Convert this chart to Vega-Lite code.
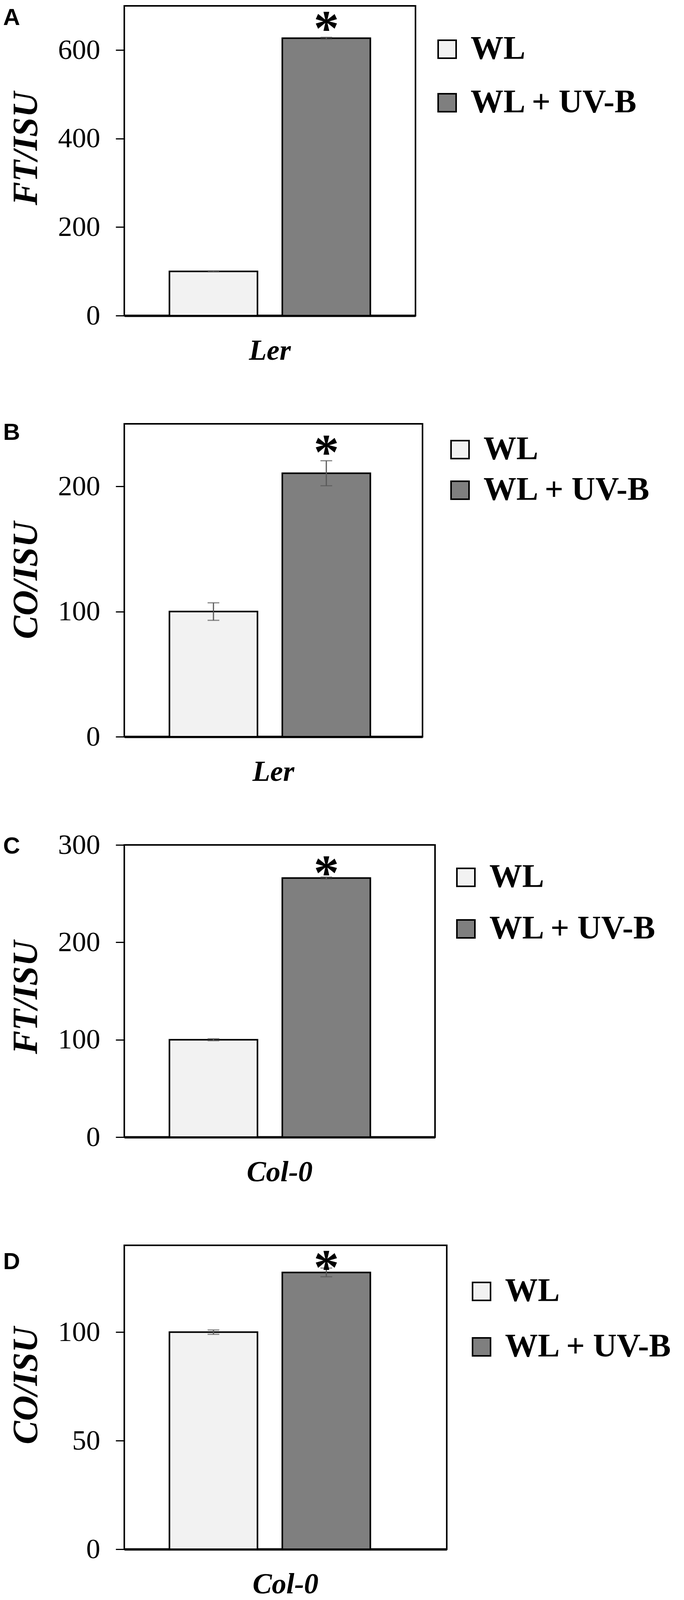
{
  "$schema": "https://vega.github.io/schema/vega-lite/v6.json",
  "background": "white",
  "padding": {"left": 6, "top": 10, "right": 5, "bottom": 0},
  "bounds": "flush",
  "spacing": 277,
  "datasets": {
    "a": [
      {"genotype": "Ler", "treatment": "WL", "value": 100, "lo": 99, "hi": 101, "star": null, "sig": ""},
      {"genotype": "Ler", "treatment": "WL + UV-B", "value": 627, "lo": 625, "hi": 629, "star": 668, "sig": "*"}
    ],
    "b": [
      {"genotype": "Ler", "treatment": "WL", "value": 100, "lo": 93, "hi": 107, "star": null, "sig": ""},
      {"genotype": "Ler", "treatment": "WL + UV-B", "value": 210.5, "lo": 200.5, "hi": 220.5, "star": 234, "sig": "*"}
    ],
    "c": [
      {"genotype": "Col-0", "treatment": "WL", "value": 100, "lo": 99, "hi": 101, "star": null, "sig": ""},
      {"genotype": "Col-0", "treatment": "WL + UV-B", "value": 266, "lo": 265, "hi": 267, "star": 280, "sig": "*"}
    ],
    "d": [
      {"genotype": "Col-0", "treatment": "WL", "value": 100, "lo": 99, "hi": 101, "star": null, "sig": ""},
      {"genotype": "Col-0", "treatment": "WL + UV-B", "value": 127.5, "lo": 125.5, "hi": 129.5, "star": 133.7, "sig": "*"}
    ]
  },
  "vconcat": [
    {
      "title": {"text": "A", "offset": -65},
      "width": 745,
      "height": 793,
      "data": {"name": "a"},
      "encoding": {
        "x": {"field": "genotype", "type": "nominal", "scale": {"paddingInner": 0, "paddingOuter": 0}},
        "xOffset": {"field": "treatment", "type": "nominal", "scale": {"domain": ["WL", "WL + UV-B"], "paddingInner": 0.22, "paddingOuter": 0.4}}
      },
      "layer": [
        {
          "mark": {"type": "bar", "stroke": "black", "strokeWidth": 4},
          "encoding": {
            "y": {"field": "value", "type": "quantitative", "title": "FT/ISU", "scale": {"domain": [0, 700], "nice": false}, "axis": {"values": [0, 200, 400, 600], "titleY": 365}},
            "color": {"field": "treatment", "type": "nominal", "scale": {"domain": ["WL", "WL + UV-B"], "range": ["#f2f2f2", "#7f7f7f"]}, "legend": {"legendX": 784, "legendY": 69, "rowPadding": 53}}
          }
        },
        {
          "mark": {"type": "rule", "color": "#595959", "strokeWidth": 3},
          "encoding": {"y": {"field": "lo", "type": "quantitative"}, "y2": {"field": "hi"}}
        },
        {
          "mark": {"type": "tick", "color": "#595959", "thickness": 3, "size": 30},
          "encoding": {"y": {"field": "lo", "type": "quantitative"}}
        },
        {
          "mark": {"type": "tick", "color": "#595959", "thickness": 3, "size": 30},
          "encoding": {"y": {"field": "hi", "type": "quantitative"}}
        },
        {
          "transform": [{"filter": "datum.star != null"}],
          "mark": {"type": "text", "font": "Liberation Serif", "fontWeight": "bold", "fontSize": 130, "baseline": "middle", "dy": 26},
          "encoding": {"y": {"field": "star", "type": "quantitative"}, "text": {"field": "sig"}}
        }
      ]
    },
    {
      "title": {"text": "B", "offset": -54},
      "width": 763,
      "height": 801,
      "data": {"name": "b"},
      "encoding": {
        "x": {"field": "genotype", "type": "nominal", "scale": {"paddingInner": 0, "paddingOuter": 0}},
        "xOffset": {"field": "treatment", "type": "nominal", "scale": {"domain": ["WL", "WL + UV-B"], "paddingInner": 0.22, "paddingOuter": 0.39}}
      },
      "layer": [
        {
          "mark": {"type": "bar", "stroke": "black", "strokeWidth": 4},
          "encoding": {
            "y": {"field": "value", "type": "quantitative", "title": "CO/ISU", "scale": {"domain": [0, 250], "nice": false}, "axis": {"values": [0, 100, 200]}},
            "color": {"field": "treatment", "type": "nominal", "scale": {"domain": ["WL", "WL + UV-B"], "range": ["#f2f2f2", "#7f7f7f"]}, "legend": {"legendX": 817, "legendY": 24, "rowPadding": 20}}
          }
        },
        {
          "mark": {"type": "rule", "color": "#595959", "strokeWidth": 3},
          "encoding": {"y": {"field": "lo", "type": "quantitative"}, "y2": {"field": "hi"}}
        },
        {
          "mark": {"type": "tick", "color": "#595959", "thickness": 3, "size": 30},
          "encoding": {"y": {"field": "lo", "type": "quantitative"}}
        },
        {
          "mark": {"type": "tick", "color": "#595959", "thickness": 3, "size": 30},
          "encoding": {"y": {"field": "hi", "type": "quantitative"}}
        },
        {
          "transform": [{"filter": "datum.star != null"}],
          "mark": {"type": "text", "font": "Liberation Serif", "fontWeight": "bold", "fontSize": 130, "baseline": "middle", "dy": 26},
          "encoding": {"y": {"field": "star", "type": "quantitative"}, "text": {"field": "sig"}}
        }
      ]
    },
    {
      "title": {"text": "C", "offset": -71},
      "width": 795,
      "height": 748,
      "data": {"name": "c"},
      "encoding": {
        "x": {"field": "genotype", "type": "nominal", "scale": {"paddingInner": 0, "paddingOuter": 0}},
        "xOffset": {"field": "treatment", "type": "nominal", "scale": {"domain": ["WL", "WL + UV-B"], "paddingInner": 0.195, "paddingOuter": 0.38}}
      },
      "layer": [
        {
          "mark": {"type": "bar", "stroke": "black", "strokeWidth": 4},
          "encoding": {
            "y": {"field": "value", "type": "quantitative", "title": "FT/ISU", "scale": {"domain": [0, 300], "nice": false}, "axis": {"values": [0, 100, 200, 300], "titleY": 390}},
            "color": {"field": "treatment", "type": "nominal", "scale": {"domain": ["WL", "WL + UV-B"], "range": ["#f2f2f2", "#7f7f7f"]}, "legend": {"legendX": 832, "legendY": 41, "rowPadding": 48}}
          }
        },
        {
          "mark": {"type": "rule", "color": "#595959", "strokeWidth": 3},
          "encoding": {"y": {"field": "lo", "type": "quantitative"}, "y2": {"field": "hi"}}
        },
        {
          "mark": {"type": "tick", "color": "#595959", "thickness": 3, "size": 30},
          "encoding": {"y": {"field": "lo", "type": "quantitative"}}
        },
        {
          "mark": {"type": "tick", "color": "#595959", "thickness": 3, "size": 30},
          "encoding": {"y": {"field": "hi", "type": "quantitative"}}
        },
        {
          "transform": [{"filter": "datum.star != null"}],
          "mark": {"type": "text", "font": "Liberation Serif", "fontWeight": "bold", "fontSize": 130, "baseline": "middle", "dy": 26},
          "encoding": {"y": {"field": "star", "type": "quantitative"}, "text": {"field": "sig"}}
        }
      ]
    },
    {
      "title": {"text": "D", "offset": -78},
      "width": 825,
      "height": 778,
      "data": {"name": "d"},
      "encoding": {
        "x": {"field": "genotype", "type": "nominal", "scale": {"paddingInner": 0, "paddingOuter": 0}},
        "xOffset": {"field": "treatment", "type": "nominal", "scale": {"domain": ["WL", "WL + UV-B"], "paddingInner": 0.21, "paddingOuter": 0.375}}
      },
      "layer": [
        {
          "mark": {"type": "bar", "stroke": "black", "strokeWidth": 4},
          "encoding": {
            "y": {"field": "value", "type": "quantitative", "title": "CO/ISU", "scale": {"domain": [0, 140], "nice": false}, "axis": {"values": [0, 50, 100], "titleY": 359}},
            "color": {"field": "treatment", "type": "nominal", "scale": {"domain": ["WL", "WL + UV-B"], "range": ["#f2f2f2", "#7f7f7f"]}, "legend": {"legendX": 872, "legendY": 76, "rowPadding": 58}}
          }
        },
        {
          "mark": {"type": "rule", "color": "#595959", "strokeWidth": 3},
          "encoding": {"y": {"field": "lo", "type": "quantitative"}, "y2": {"field": "hi"}}
        },
        {
          "mark": {"type": "tick", "color": "#595959", "thickness": 3, "size": 30},
          "encoding": {"y": {"field": "lo", "type": "quantitative"}}
        },
        {
          "mark": {"type": "tick", "color": "#595959", "thickness": 3, "size": 30},
          "encoding": {"y": {"field": "hi", "type": "quantitative"}}
        },
        {
          "transform": [{"filter": "datum.star != null"}],
          "mark": {"type": "text", "font": "Liberation Serif", "fontWeight": "bold", "fontSize": 130, "baseline": "middle", "dy": 26},
          "encoding": {"y": {"field": "star", "type": "quantitative"}, "text": {"field": "sig"}}
        }
      ]
    }
  ],
  "resolve": {"scale": {"color": "independent"}, "legend": {"color": "independent"}},
  "config": {
    "view": {"stroke": "black", "strokeWidth": 4},
    "title": {"anchor": "start", "frame": "bounds", "font": "Liberation Sans", "fontWeight": "bold", "fontSize": 60, "color": "black", "dx": -14},
    "axisX": {
      "title": null,
      "ticks": false,
      "domainColor": "black",
      "domainWidth": 6,
      "labelAngle": 0,
      "labelFont": "Liberation Serif",
      "labelFontWeight": "bold",
      "labelFontStyle": "italic",
      "labelFontSize": 74,
      "labelColor": "black",
      "labelPadding": 54,
      "labelLimit": 600
    },
    "axisY": {
      "domain": false,
      "grid": false,
      "ticks": true,
      "tickSize": 22,
      "tickWidth": 3,
      "tickColor": "black",
      "labelFont": "Liberation Serif",
      "labelFontSize": 72,
      "labelColor": "black",
      "labelPadding": 40,
      "titleFont": "Liberation Serif",
      "titleFontWeight": "bold",
      "titleFontStyle": "italic",
      "titleFontSize": 90,
      "titleColor": "black",
      "titlePadding": 35
    },
    "legend": {
      "orient": "none",
      "title": null,
      "padding": 0,
      "symbolType": "square",
      "symbolSize": 2116,
      "symbolStrokeColor": "black",
      "symbolStrokeWidth": 4,
      "labelFont": "Liberation Serif",
      "labelFontWeight": "bold",
      "labelFontSize": 84,
      "labelColor": "black",
      "labelOffset": 18,
      "labelLimit": 800
    }
  }
}
